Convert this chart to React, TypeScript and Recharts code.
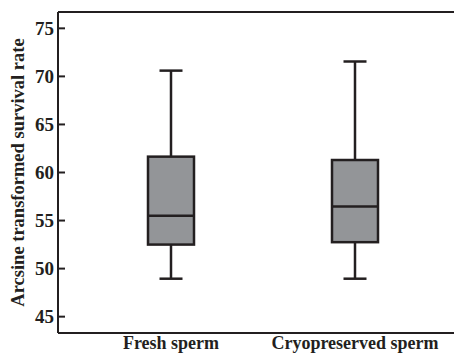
import React from 'react';
import { ComposedChart, Bar, XAxis, YAxis, ReferenceLine } from 'recharts';

const categories = ['Fresh sperm', 'Cryopreserved sperm'];
const mins = [48.95, 48.95];
const q1s = [52.5, 52.75];
const medians = [55.5, 56.45];
const q3s = [61.65, 61.3];
const maxs = [70.6, 71.55];
const yTicks = [45, 50, 55, 60, 65, 70, 75];
const yDomain: [number, number] = [43.3, 76.7];

const data = categories.map((name, i) => ({
  name,
  range: [mins[i], maxs[i]],
  q1: q1s[i],
  median: medians[i],
  q3: q3s[i],
  min: mins[i],
  max: maxs[i],
}));

const ink = '#231f20';
const font = '"Liberation Serif", "Times New Roman", serif';

// draws the whole box from the [min, max] range bar geometry
function BoxShape(props: any) {
  const { x, y, width, height, payload } = props;
  const { min, max, q1, median, q3 } = payload;
  const pos = (v: number) => y + ((max - v) / (max - min)) * height;
  const cx = x + width / 2;
  const cap = width / 2;
  return (
    <g>
      <line x1={cx} x2={cx} y1={pos(max)} y2={pos(q3)} stroke={ink} strokeWidth={2.5} />
      <line x1={cx} x2={cx} y1={pos(q1)} y2={pos(min)} stroke={ink} strokeWidth={2.5} />
      <line x1={cx - cap / 2} x2={cx + cap / 2} y1={pos(max)} y2={pos(max)} stroke={ink} strokeWidth={2.5} />
      <line x1={cx - cap / 2} x2={cx + cap / 2} y1={pos(min)} y2={pos(min)} stroke={ink} strokeWidth={2.5} />
      <rect x={x} y={pos(q3)} width={width} height={pos(q1) - pos(q3)} fill='#939598' stroke={ink} strokeWidth={2.5} />
      <line x1={x} x2={x + width} y1={pos(median)} y2={pos(median)} stroke={ink} strokeWidth={2.5} />
    </g>
  );
}

export default function App() {
  return (
    <div style={{ position: 'absolute', left: 0, top: 0, background: '#fff' }}>
      <ComposedChart width={454} height={354} data={data} margin={{ top: 12, right: 0, bottom: 0, left: 0 }}>
        <XAxis
          dataKey='name'
          padding={{ left: 21, right: 7 }}
          tickLine={false}
          tickSize={0}
          tickMargin={3}
          axisLine={{ stroke: ink, strokeWidth: 2 }}
          tick={{ fill: ink, fontSize: 18, fontWeight: 'bold', fontFamily: font }}
          height={21}
        />
        <YAxis
          width={58}
          domain={yDomain}
          ticks={yTicks}
          type='number'
          allowDataOverflow
          tickSize={-7}
          tickMargin={11}
          axisLine={{ stroke: ink, strokeWidth: 2 }}
          tickLine={{ stroke: ink, strokeWidth: 2 }}
          tick={{ fill: ink, fontSize: 19, fontWeight: 'bold', fontFamily: font }}
          label={{
            value: 'Arcsine transformed survival rate',
            angle: -90,
            position: 'insideLeft',
            offset: 17,
            style: { textAnchor: 'middle', fill: ink, fontSize: 18.5, fontWeight: 'bold', fontFamily: font },
          }}
        />
        <ReferenceLine y={yDomain[1]} stroke={ink} strokeWidth={2} ifOverflow='extendDomain' />
        <Bar dataKey='range' barSize={46} shape={<BoxShape />} isAnimationActive={false} />
      </ComposedChart>
    </div>
  );
}
